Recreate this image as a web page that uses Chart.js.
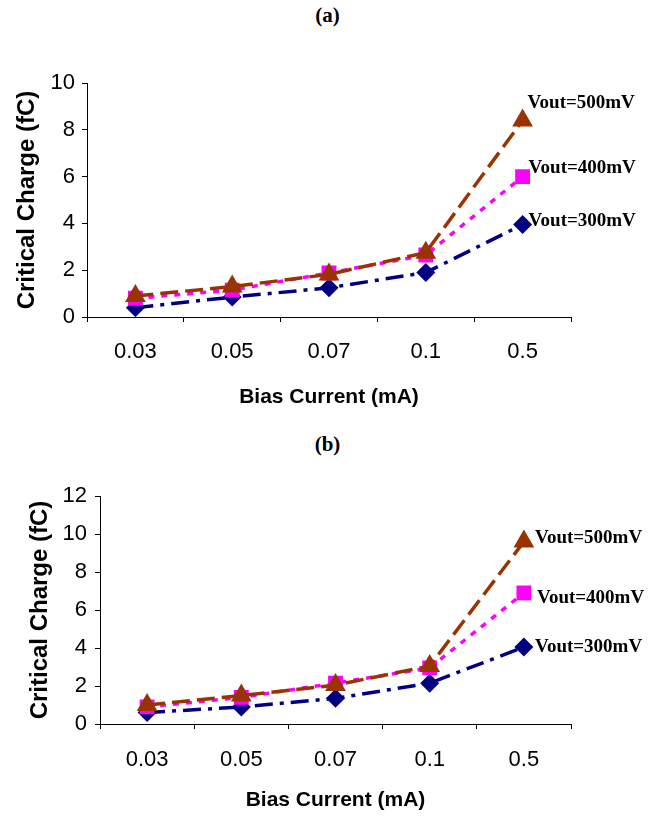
<!DOCTYPE html>
<html>
<head>
<meta charset="utf-8">
<script src="https://cdn.jsdelivr.net/npm/chart.js@4"></script>
<style>
    body { margin: 0; background: #fff; width: 655px; height: 817px; position: relative; overflow: hidden; }
    .panel { position: absolute; left: 0; width: 655px; }
    .tag { position: absolute; left: 0; width: 655px; text-align: center; font: bold 21px "Liberation Serif", serif; color: #000; }
</style>
</head>
<body>
<div class="tag" style="top: 3px;">(a)</div>
<div class="panel" style="top: 30px; height: 380px;"><canvas id="chartA"></canvas></div>
<div class="tag" style="top: 432px;">(b)</div>
<div class="panel" style="top: 440px; height: 377px;"><canvas id="chartB"></canvas></div>
<script>
const biasCurrent = ['0.03', '0.05', '0.07', '0.1', '0.5'];
const seriesNames = ['Vout=500mV', 'Vout=400mV', 'Vout=300mV'];

// panel (a)
const chargeA500 = [0.9, 1.3, 1.82, 2.75, 8.4];
const chargeA400 = [0.8, 1.15, 1.88, 2.65, 6.0];
const chargeA300 = [0.4, 0.85, 1.25, 1.9, 3.95];
const ticksA = [0, 2, 4, 6, 8, 10];

// panel (b)
const chargeB500 = [1.0, 1.5, 2.05, 3.05, 9.6];
const chargeB400 = [0.9, 1.4, 2.15, 2.95, 6.9];
const chargeB300 = [0.6, 0.9, 1.35, 2.15, 4.05];
const ticksB = [0, 2, 4, 6, 8, 10, 12];

// writes the series name next to the last point of each line
const endLabels = {
    id: 'endLabels',
    afterDatasetsDraw(chart, args, opts) {
        const ctx = chart.ctx;
        ctx.save();
        ctx.font = 'bold 19px "Liberation Serif", serif';
        ctx.fillStyle = '#000';
        ctx.textAlign = 'left';
        ctx.textBaseline = 'middle';
        chart.data.datasets.forEach(function(ds, i) {
            const meta = chart.getDatasetMeta(i);
            const pt = meta.data[meta.data.length - 1];
            ctx.fillText(ds.label, pt.x + opts.dx[i], pt.y + opts.dy[i]);
        });
        ctx.restore();
    }
};

function makeDatasets(d500, d400, d300) {
    return [{
        label: seriesNames[0],
        data: d500,
        borderColor: '#993300',
        backgroundColor: '#993300',
        borderWidth: 3.5,
        borderDash: [18, 7],
        pointStyle: 'triangle',
        pointRadius: 12,
        pointBorderWidth: 0
    }, {
        label: seriesNames[1],
        data: d400,
        borderColor: '#FF00FF',
        backgroundColor: '#FF00FF',
        borderWidth: 3.5,
        borderDash: [6, 7],
        pointStyle: 'rect',
        pointRadius: 10.5,
        pointBorderWidth: 0
    }, {
        label: seriesNames[2],
        data: d300,
        borderColor: '#000080',
        backgroundColor: '#000080',
        borderWidth: 3.5,
        borderDash: [18, 7, 4, 7],
        pointStyle: 'rectRot',
        pointRadius: 9.5,
        pointBorderWidth: 0
    }];
}

function makeChart(id, datasets, yTicks, box, labelPos) {
    const yMax = yTicks[yTicks.length - 1];
    return new Chart(document.getElementById(id), {
        type: 'line',
        data: { labels: biasCurrent, datasets: datasets },
        plugins: [endLabels],
        options: {
            responsive: true,
            maintainAspectRatio: false,
            animation: false,
            layout: { padding: { left: 0, right: box.right, top: box.top, bottom: 0 } },
            plugins: {
                legend: { display: false },
                tooltip: { enabled: false },
                endLabels: labelPos
            },
            scales: {
                x: {
                    type: 'category',
                    offset: true,
                    grid: { offset: true, drawOnChartArea: false, drawTicks: true, tickLength: 5, color: '#000' },
                    border: { display: true, color: '#000', width: 1 },
                    ticks: { color: '#000', padding: box.xTickPad, font: { family: '"Liberation Sans", Arial', size: 22 } },
                    title: {
                        display: true,
                        text: 'Bias Current (mA)',
                        color: '#000',
                        padding: { top: 0, bottom: box.xTitlePad },
                        font: { family: '"Liberation Sans", Arial', size: 21, weight: 'bold' }
                    },
                    afterFit: function(scale) { scale.height = box.xHeight; }
                },
                y: {
                    min: 0,
                    max: yMax,
                    afterBuildTicks: function(scale) { scale.ticks = yTicks.map(v => ({ value: v })); },
                    grid: { drawOnChartArea: false, drawTicks: true, tickLength: 5, color: '#000' },
                    border: { display: true, color: '#000', width: 1 },
                    ticks: { color: '#000', padding: box.yTickPad, font: { family: '"Liberation Sans", Arial', size: 22 } },
                    title: {
                        display: true,
                        text: 'Critical Charge (fC)',
                        color: '#000',
                        padding: { top: box.yTitlePad, bottom: 0 },
                        font: { family: '"Liberation Sans", Arial', size: 24, weight: 'bold' }
                    },
                    afterFit: function(scale) { scale.width = box.yWidth; }
                }
            }
        }
    });
}

makeChart('chartA', makeDatasets(chargeA500, chargeA400, chargeA300), ticksA,
    { right: 84, top: 53, xHeight: 93, xTickPad: 17, xTitlePad: 0, yWidth: 87, yTickPad: 7, yTitlePad: 13 },
    { dx: [5, 6, 6], dy: [-17, -9, -3] });

makeChart('chartB', makeDatasets(chargeB500, chargeB400, chargeB300), ticksB,
    { right: 84, top: 56, xHeight: 93, xTickPad: 18, xTitlePad: 4, yWidth: 100, yTickPad: 8, yTitlePad: 26 },
    { dx: [11, 13, 11], dy: [-4, 5, 0] });
</script>
</body>
</html>
